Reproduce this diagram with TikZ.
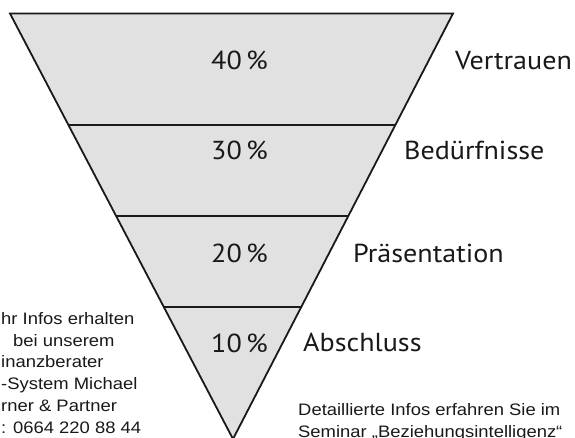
\documentclass[tikz,border=0pt]{standalone}
\usepackage{fontspec}
\newfontfamily\stagefont[FakeStretch=1.08]{PT Sans}
\newfontfamily\infofont[FakeStretch=1.11]{Liberation Sans}
\usepackage{tikz}
\usetikzlibrary{calc}
\usetikzlibrary{positioning}

\definecolor{funnelgray}{RGB}{225,225,225}
\definecolor{inkgray}{RGB}{25,25,25}

\tikzset{
    funnel/.style={draw=inkgray, line width=1.8pt, fill=funnelgray, line join=miter},
    band/.style={draw=inkgray, line width=1.8pt},
    pct/.style={inner sep=0pt, anchor=base west, text=inkgray, font={\stagefont\fontsize{26}{30}\selectfont}},
    stage/.style={inner sep=0pt, anchor=base west, text=inkgray, font={\stagefont\fontsize{26}{30}\selectfont}},
    info/.style={inner sep=0pt, anchor=base west, align=left, text=inkgray, font={\infofont\fontsize{16.6}{21.7}\selectfont}}
}

\begin{document}
\begin{tikzpicture}[x=1pt, y=-1pt]
    \useasboundingbox (0,0) rectangle (575,438);
    \clip (0,0) rectangle (575,438);

    \coordinate (tl) at (10,13.5);
    \coordinate (tr) at (453,13.5);
    \coordinate (apex) at (233,439);

    % funnel
    \draw[funnel] (tl) -- (tr) -- (apex) -- cycle;

    % band borders
    \coordinate (l1) at ($(tl)!0.262!(apex)$);
    \coordinate (r1) at ($(tr)!0.262!(apex)$);
    \coordinate (l2) at ($(tl)!0.476!(apex)$);
    \coordinate (r2) at ($(tr)!0.476!(apex)$);
    \coordinate (l3) at ($(tl)!0.690!(apex)$);
    \coordinate (r3) at ($(tr)!0.690!(apex)$);
    \draw[band] (l1) -- (r1);
    \draw[band] (l2) -- (r2);
    \draw[band] (l3) -- (r3);

    % shares
    \node[pct] (p40) at (211,70) {40\,\%};
    \node[pct] (p30) at (211,160) {30\,\%};
    \node[pct] (p20) at (211,262) {20\,\%};
    \node[pct] (p10) at (211,352) {10\,\%};

    % stages
    \node[stage] (vertrauen) at (455,70) {Vertrauen};
    \node[stage] (beduerfnisse) at (404,160) {Bedürfnisse};
    \node[stage] (praesentation) at (353,262) {Präsentation};
    \node[stage] (abschluss) at (303,351) {Abschluss};

    % notes (last line sits on the anchor)
    \node[info] (infoleft) at (1,433) {hr Infos erhalten\\\hspace*{12pt}bei unserem\\inanzberater\\-System Michael\\rner \& Partner\\: 0664 220 88 44};
    \node[info] (inforight) at (298,437.5) {Detaillierte Infos erfahren Sie im\\Seminar „Beziehungsintelligenz“};
\end{tikzpicture}
\end{document}
